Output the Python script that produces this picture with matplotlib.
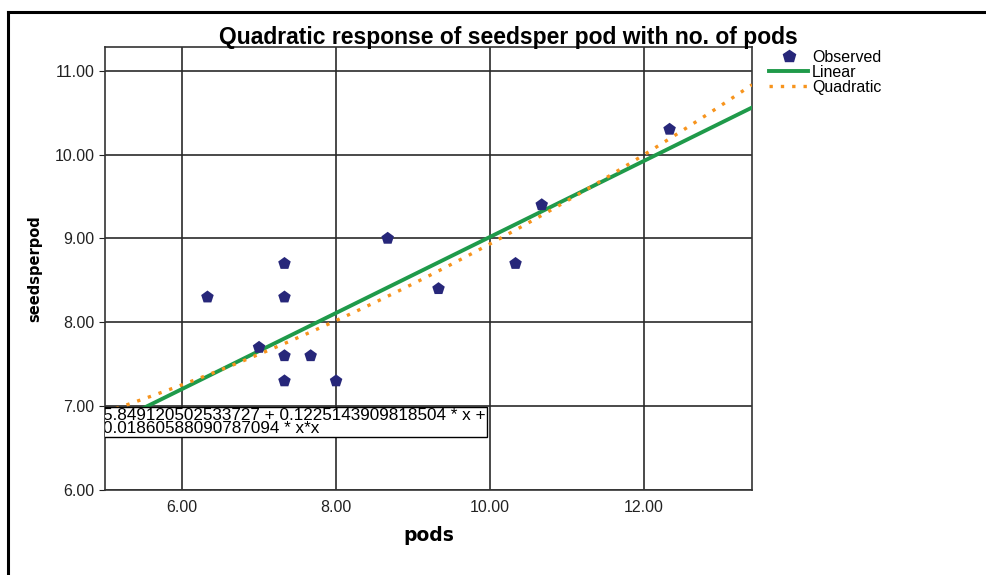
import numpy as np
import matplotlib.pyplot as plt
from matplotlib.lines import Line2D

# Observed data
pods = [6.33, 7.33, 7.33, 7.0, 7.33, 7.67, 7.33, 8.0, 8.67, 9.33, 10.33, 10.67, 12.33]
seedsperpod = [8.3, 8.7, 8.3, 7.7, 7.6, 7.6, 7.3, 7.3, 9.0, 8.4, 8.7, 9.4, 10.3]

# fitted models (b0, b1[, b2]); linear
lin_coef = [4.483, 0.4535]
quad_coef = [5.849120502533727, 0.1225143909818504, 0.01860588090787094]

x_ticks = [6, 8, 10, 12]
y_ticks = [6, 7, 8, 9, 10, 11]

plt.rcParams['font.family'] = ['Liberation Sans', 'DejaVu Sans']

fig = plt.figure(figsize=(9.87, 5.75), dpi=100)
ax = fig.add_axes([0.1064, 0.1478, 0.6555, 0.7702])

xmin, xmax = 5.0, 13.4
ymin, ymax = 6.0, 11.28

xs = np.linspace(xmin, xmax, 200)
dots = (0, (1, 2.4))

ax.plot(xs, lin_coef[0] + lin_coef[1] * xs, color='#1f9a4a', lw=2.8, zorder=3)
ax.plot(xs, quad_coef[0] + quad_coef[1] * xs + quad_coef[2] * xs ** 2,
        color='#f7941d', lw=2.4, ls=dots, zorder=3)
ax.scatter(pods, seedsperpod, marker='p', s=90, color='#27277a', edgecolors='none', zorder=4)

ax.set_xlim(xmin, xmax)
ax.set_ylim(ymin, ymax)
ax.set_xticks(x_ticks)
ax.set_xticklabels([f'{v:.2f}' for v in x_ticks])
ax.set_yticks(y_ticks)
ax.set_yticklabels([f'{v:.2f}' for v in y_ticks])
ax.grid(True, color='#2a2a2a', lw=1.2)
ax.set_axisbelow(True)
ax.tick_params(axis='x', length=0, pad=7, labelsize=11.5, colors='#222222')
ax.tick_params(axis='y', length=4, labelsize=11.5, colors='#222222')
for s in ax.spines.values():
    s.set_color('#333333')
    s.set_linewidth(1.2)

ax.set_xlabel('pods', fontsize=13.5, fontweight='bold', family='DejaVu Sans', labelpad=8)
ax.set_ylabel('seedsperpod', fontsize=10.5, fontweight='bold', family='DejaVu Sans', labelpad=9)
fig.text(0.515, 0.923, 'Quadratic response of seedsper pod with no. of pods', fontsize=16.5,
         fontweight='bold', ha='center', va='baseline')

# Equation box
ax.text(xmin - 0.02, 6.975,
        '5.849120502533727 + 0.1225143909818504 * x +\n0.01860588090787094 * x*x',
        fontsize=12.3, va='top', ha='left', linespacing=0.8, zorder=5, clip_on=True,
        bbox=dict(boxstyle='square,pad=0.08', fc='white', ec='black', lw=1))

handles = [
    Line2D([], [], marker='p', ls='none', color='#27277a', markersize=9),
    Line2D([], [], color='#1f9a4a', lw=2.8),
    Line2D([], [], color='#f7941d', lw=2.4, ls=dots),
]
fig.legend(handles, ['Observed', 'Linear', 'Quadratic'], loc='upper left',
           bbox_to_anchor=(0.765, 0.938), frameon=False, fontsize=11.5,
           handlelength=2.4, labelspacing=0.0, handletextpad=0.25)

# outer frame
fig.add_artist(Line2D([0.008, 1.0], [0.979, 0.979], color='black', lw=2.2, transform=fig.transFigure))
fig.add_artist(Line2D([0.008, 0.008], [0.0, 0.979], color='black', lw=2.2, transform=fig.transFigure))

fig.savefig('out.png', dpi=100)
